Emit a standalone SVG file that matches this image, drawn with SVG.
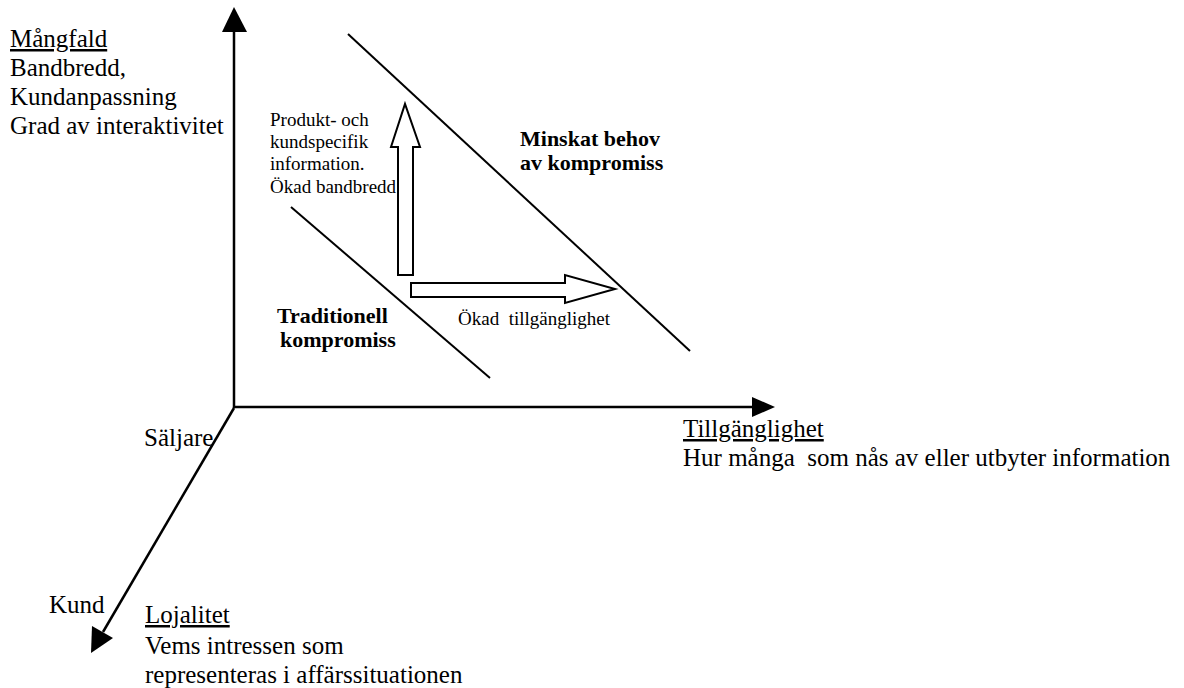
<svg xmlns="http://www.w3.org/2000/svg" width="1184" height="688" viewBox="0 0 1184 688">
<style>
text{font-family:"Liberation Serif","Times New Roman",serif;fill:#000}
.lg{font-size:25px}
.sm{font-size:19px}
.bd{font-size:22px;font-weight:bold}
.u{text-decoration:underline}
.ax{stroke:#000;stroke-width:2.5;fill:none}
.ln{stroke:#000;stroke-width:2;fill:none}
.hol{stroke:#000;stroke-width:2;fill:#fff}
</style>
<rect width="1184" height="688" fill="#fff"/>
<g id="connectors">
<line class="ax" x1="234" y1="408" x2="234" y2="30"/>
<polygon points="234,7 222,32 247,32" fill="#000"/>
<line class="ax" x1="233" y1="407" x2="754" y2="407"/>
<polygon points="775,407 752,397 752,417" fill="#000"/>
<line class="ax" x1="234" y1="408" x2="103" y2="632"/>
<polygon points="91,653 92,626 113,638" fill="#000"/>
<line class="ln" x1="348" y1="34" x2="690" y2="351"/>
<line class="ln" x1="291" y1="207" x2="490" y2="378"/>
<polygon class="hol" points="398,275 413,275 413,147 420,147 405,104 391,147 398,147"/>
<polygon class="hol" points="411,283 565,283 565,275 615,289 565,303 565,297 411,297"/>
</g>
<g id="mangfald">
<text class="lg u" x="10" y="47">Mångfald</text>
<text class="lg" x="10" y="76">Bandbredd,</text>
<text class="lg" x="10" y="105">Kundanpassning</text>
<text class="lg" x="10" y="134">Grad av interaktivitet</text>
</g>
<g id="tillganglighet">
<text class="lg u" x="683" y="437">Tillgänglighet</text>
<text class="lg" x="683" y="466" xml:space="preserve">Hur många  som nås av eller utbyter information</text>
</g>
<g id="lojalitet">
<text class="lg u" x="145" y="623">Lojalitet</text>
<text class="lg" x="145" y="654">Vems intressen som</text>
<text class="lg" x="145" y="683">representeras i affärssituationen</text>
</g>
<g id="saljare"><text class="lg" x="144" y="446">Säljare</text></g>
<g id="kund"><text class="lg" x="49" y="613">Kund</text></g>
<g id="produkt">
<text class="sm" x="270" y="126">Produkt- och</text>
<text class="sm" x="270" y="148">kundspecifik</text>
<text class="sm" x="270" y="170">information.</text>
<text class="sm" x="270" y="193">Ökad bandbredd</text>
</g>
<g id="okad"><text class="sm" x="458" y="325" xml:space="preserve">Ökad  tillgänglighet</text></g>
<g id="minskat">
<text class="bd" x="520" y="146">Minskat behov</text>
<text class="bd" x="520" y="170">av kompromiss</text>
</g>
<g id="traditionell">
<text class="bd" x="277" y="323">Traditionell</text>
<text class="bd" x="280" y="347">kompromiss</text>
</g>
</svg>
